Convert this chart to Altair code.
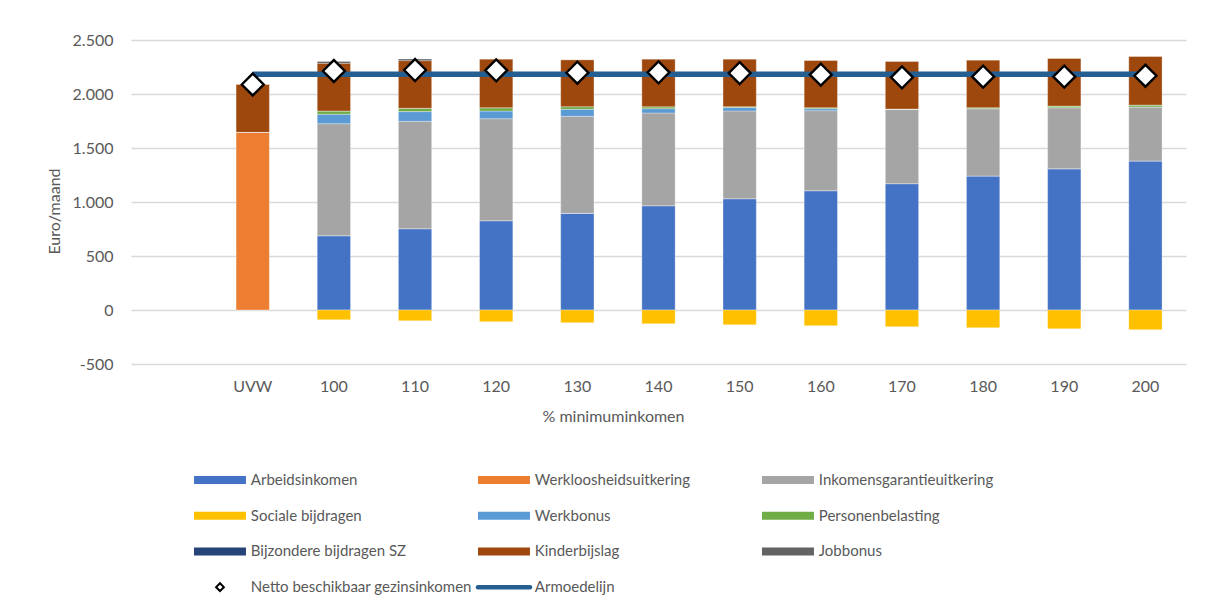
import altair as alt
import pandas as pd

# ---------------- data ----------------
categories = ["UVW", "100", "110", "120", "130", "140", "150", "160", "170", "180", "190", "200"]
x_domain = [" "] + categories

series_names = ["Arbeidsinkomen", "Werkloosheidsuitkering", "Inkomensgarantieuitkering",
                "Sociale bijdragen", "Werkbonus", "Personenbelasting",
                "Bijzondere bijdragen SZ", "Kinderbijslag", "Jobbonus"]
series_colors = ["#4472C4", "#ED7D31", "#A5A5A5", "#FFC000", "#5B9BD5", "#70AD47",
                 "#264478", "#9E480E", "#636363"]

arbeidsinkomen = [0, 688, 753, 827, 895, 966, 1031, 1105, 1170, 1241, 1308, 1380]
werkloosheidsuitkering = [1645, 0, 0, 0, 0, 0, 0, 0, 0, 0, 0, 0]
inkomensgarantieuitkering = [0, 1037, 994, 944, 898, 858, 812, 741, 688, 623, 565, 500]
sociale_bijdragen = [0, -90, -99, -108, -117, -127, -136, -145, -154, -164, -173, -182]
werkbonus = [0, 87, 90, 71, 65, 40, 31, 18, 0, 0, 0, 0]
personenbelasting = [0, 31, 31, 31, 25, 18, 9, 9, 3, 9, 15, 18]
bijzondere_bijdragen = [0, 0, 0, 0, 0, 0, 0, 0, 0, 0, 0, 0]
kinderbijslag = [445, 441, 441, 451, 435, 442, 441, 439, 442, 442, 443, 451]
jobbonus = [0, 18, 15, 0, 0, 0, 0, 0, 0, 0, 0, 0]

netto = [2088, 2213, 2222, 2219, 2197, 2201, 2194, 2179, 2154, 2160, 2160, 2169]
armoedelijn = [2183, 2183, 2183, 2183, 2183, 2183, 2183, 2183, 2183, 2183, 2183, 2183]

netto_label = "Netto beschikbaar gezinsinkomen"
armoede_label = "Armoedelijn"
armoede_color = "#255E91"

series_values = [arbeidsinkomen, werkloosheidsuitkering, inkomensgarantieuitkering,
                 sociale_bijdragen, werkbonus, personenbelasting, bijzondere_bijdragen,
                 kinderbijslag, jobbonus]

# ---------------- tables ----------------
rows = []
for si, (name, vals) in enumerate(zip(series_names, series_values)):
    for cat, v in zip(categories, vals):
        rows.append({"cat": cat, "serie": name, "value": v, "idx": si})
bars_df = pd.DataFrame(rows)
lines_df = pd.DataFrame({"cat": categories, "netto": netto, "armoede": armoedelijn})

FONT = "Lato"
TXT = "#595959"
W, H = 1055, 324

xscale = alt.Scale(domain=x_domain, paddingInner=0.59, paddingOuter=0.295)
yscale = alt.Scale(domain=[-500, 2500], nice=False)

xenc = alt.X("cat:N", scale=xscale, sort=x_domain,
             axis=alt.Axis(title="% minimuminkomen", labelAngle=0, ticks=False, domain=False,
                           labelPadding=14, titlePadding=14, titleX=482,
                           labelFont=FONT, labelFontSize=16, labelColor=TXT,
                           titleFont=FONT, titleFontSize=16, titleColor=TXT,
                           titleFontWeight="normal"))

bars = alt.Chart(bars_df).mark_bar(stroke="white", strokeOpacity=0.3, strokeWidth=1).encode(
    x=xenc,
    y=alt.Y("value:Q", scale=yscale, stack="zero",
            axis=alt.Axis(title="Euro/maand", values=[-500, 0, 500, 1000, 1500, 2000, 2500],
                          labelExpr="(datum.value < 0 ? '-' : '') + replace(format(abs(datum.value), ','), ',', '.')",
                          ticks=False, domain=False, labelPadding=18,
                          gridColor="#D9D9D9", gridWidth=1.3,
                          titlePadding=10, titleY=171,
                          labelFont=FONT, labelFontSize=16, labelColor=TXT,
                          titleFont=FONT, titleFontSize=16, titleColor=TXT,
                          titleFontWeight="normal")),
    color=alt.Color("serie:N", scale=alt.Scale(domain=series_names, range=series_colors), legend=None),
    order=alt.Order("idx:Q", sort="ascending"),
)

line = alt.Chart(lines_df).mark_line(color=armoede_color, strokeWidth=5.5).encode(
    x=alt.X("cat:N", scale=xscale, sort=x_domain),
    y=alt.Y("armoede:Q", scale=yscale),
)

points = alt.Chart(lines_df).mark_point(shape="diamond", filled=True, fill="white",
                                        stroke="black", strokeWidth=2.4, size=480,
                                        opacity=1).encode(
    x=alt.X("cat:N", scale=xscale, sort=x_domain),
    y=alt.Y("netto:Q", scale=yscale),
)

main = alt.layer(bars, line, points).properties(width=W, height=H)

# ---------------- legend panel ----------------
legend_labels = series_names + [netto_label, armoede_label]
legend_colors = series_colors + ["black", armoede_color]
leg_rows = []
for i, (lab, col) in enumerate(zip(legend_labels, legend_colors)):
    c = i % 3
    r = i // 3
    leg_rows.append({"label": lab, "color": col, "row": r,
                     "x0": c, "x1": c + 0.183, "xm": c + 0.0915, "xt": c + 0.2,
                     "kind": "bar" if i < len(series_names) else ("point" if lab == netto_label else "line")})
leg_df = pd.DataFrame(leg_rows)

lx = alt.Scale(domain=[-63 / 284, (W - 63) / 284], nice=False, zero=False)
ly = alt.Scale(domain=[-0.5, 3.5], reverse=True, nice=False, zero=False)

sw = alt.Chart(leg_df).transform_filter("datum.kind == 'bar'").mark_rule(strokeWidth=8).encode(
    x=alt.X("x0:Q", scale=lx, axis=None),
    x2="x1:Q",
    y=alt.Y("row:Q", scale=ly, axis=None),
    color=alt.Color("color:N", scale=None),
)
sw_line = alt.Chart(leg_df).transform_filter("datum.kind == 'line'").mark_rule(
    strokeWidth=4.5, strokeCap="round", color=armoede_color).encode(
    x=alt.X("x0:Q", scale=lx, axis=None),
    x2="x1:Q",
    y=alt.Y("row:Q", scale=ly, axis=None),
)
sw_pt = alt.Chart(leg_df).transform_filter("datum.kind == 'point'").mark_point(
    shape="diamond", filled=True, fill="white", stroke="black", strokeWidth=2, size=60, opacity=1).encode(
    x=alt.X("xm:Q", scale=lx, axis=None),
    y=alt.Y("row:Q", scale=ly, axis=None),
)
txt = alt.Chart(leg_df).mark_text(align="left", baseline="middle", font=FONT, fontSize=15,
                                  color=TXT).encode(
    x=alt.X("xt:Q", scale=lx, axis=None),
    y=alt.Y("row:Q", scale=ly, axis=None),
    text="label:N",
)
legend = alt.layer(sw, sw_line, sw_pt, txt).properties(width=W, height=143)

chart = alt.vconcat(main, legend, spacing=38).properties(
    padding={"left": 38, "top": 24, "right": 10, "bottom": 5},
    background="white",
).configure_view(strokeWidth=0, stroke="transparent")

chart.save("out.html", embed_options={"renderer": "svg", "actions": False})
